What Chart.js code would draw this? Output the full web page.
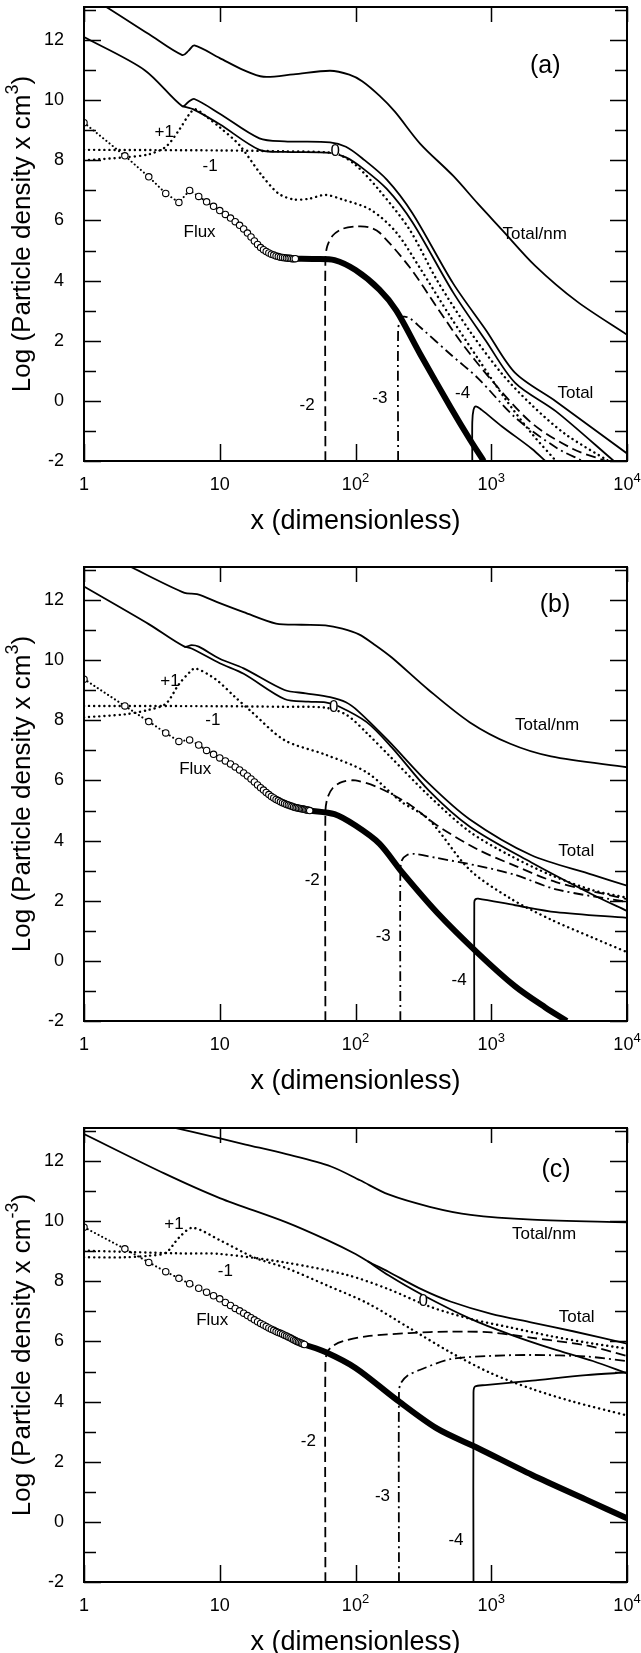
<!DOCTYPE html>
<html>
<head>
<meta charset="utf-8">
<script src="https://cdn.jsdelivr.net/npm/chart.js@4.4.1/dist/chart.umd.min.js"></script>
<style>
  html, body { margin: 0; padding: 0; background: #fff; }
  body { width: 641px; height: 1653px; overflow: hidden; position: relative; }
  .panel { position: absolute; left: 0; width: 641px; height: 560px; }
</style>
</head>
<body>
<div class="panel" style="top:0"><canvas id="chartA"></canvas></div>
<div class="panel" style="top:560px"><canvas id="chartB"></canvas></div>
<div class="panel" style="top:1121px"><canvas id="chartC"></canvas></div>
<script>
const FONT = '"Liberation Sans", Arial, Helvetica, sans-serif';

// axes
const xTicks = [1, 10, 100, 1000, 10000];
const xTickLabels = ['1', '10', '10^2', '10^3', '10^4'];
const yMin = -2, yMax = 13.1;

// ---- panel (a) ----
const aTotalNm = [[1,13.55],[1.5,13.07],[3,12.2],[5.3,11.5],[5.9,11.65],[6.5,11.82],[10,11.4],[15,11.0],[21,10.78],[35,10.86],[65,10.98],[90,10.85],[112,10.63],[150,10.15],[195,9.62],[300,8.55],[525,7.48],[800,6.55],[1200,5.69],[2100,4.5],[4300,3.3],[10000,2.2]];
const aTotal = [[1,12.1],[2.8,11.0],[5.3,9.8],[5.9,9.95],[6.5,10.04],[10,9.55],[19.6,8.73],[30,8.63],[65,8.6],[85,8.45],[112,8.07],[170,7.36],[262,6.25],[525,3.9],[912,2.36],[1500,0.93],[3000,-0.02],[10000,-1.75]];
const aZero = [[5.3,9.8],[6.5,9.68],[10,9.2],[19.6,8.35],[30,8.28],[65,8.25],[85,8.1],[112,7.75],[170,7.05],[262,5.95],[525,3.6],[912,2.0],[1500,0.6],[3000,-0.35],[8000,-2]];
const aPlus1 = [[1,8.0],[2,8.1],[3,8.2],[4,8.45],[5,9.0],[6,9.55],[6.6,9.7],[8,9.45],[10,9.1],[14,8.5],[20,7.55],[27,6.9],[35,6.7],[45,6.72],[60,6.85],[80,6.7],[130,6.35],[200,5.6],[300,4.4],[500,2.8],[800,1.4],[1300,0.0],[2000,-1.1],[3000,-2]];
const aMinus1 = [[1,8.35],[10,8.33],[30,8.3],[60,8.27],[75,8.2],[100,7.85],[150,7.0],[250,5.7],[400,4.0],[700,2.3],[1200,0.9],[2000,-0.15],[3500,-1.1],[7300,-2]];
const aFluxDots = [9.25,8.15,7.45,6.9,6.6,7.0,6.8,6.62,6.47,6.33,6.2,6.08,5.96,5.84,5.72,5.58,5.45,5.32,5.2,5.1,5.03,4.97,4.92,4.88,4.85,4.82,4.8,4.78,4.77,4.76,4.75,4.74,4.74,4.73,4.73,4.73];
const aFluxLine = [[36,4.73],[50,4.72],[70,4.68],[100,4.35],[150,3.7],[200,3.0],[300,1.55],[500,-0.2],[700,-1.3],[880,-2]];
const aMinus2 = [[60,-2],[60,4.7],[62,5.15],[68,5.5],[80,5.72],[100,5.8],[125,5.78],[150,5.6],[250,4.45],[400,3.1],[600,1.95],[1000,0.7],[2000,-0.75],[4000,-1.6],[7000,-2]];
const aMinus3 = [[206,-2],[206,2.35],[212,2.65],[225,2.8],[250,2.75],[300,2.45],[500,1.55],[800,0.75],[1500,-0.55],[3000,-1.55],[4700,-2]];
const aMinus4 = [[725,-2],[725,-0.7],[740,-0.3],[770,-0.18],[850,-0.3],[1200,-0.85],[2000,-1.6],[2500,-2]];

// ---- panel (b) ----
const bTotalNm = [[1,13.85],[2.15,13.13],[5.5,12.24],[6.8,12.2],[10,11.9],[15,11.6],[26,11.22],[40,11.18],[60,11.16],[80,11.05],[106,10.86],[140,10.5],[185,10.09],[346,9.01],[692,7.94],[1380,7.22],[2760,6.8],[10000,6.44]];
const bTotal = [[1,12.45],[3,11.2],[5.5,10.45],[6.2,10.5],[7,10.45],[10,10.05],[15,9.73],[30,9.01],[43,8.9],[65,8.77],[85,8.6],[105,8.3],[173,7.34],[346,5.9],[692,4.71],[1960,3.52],[5600,2.86],[10000,2.5]];
const bZero = [[5.5,10.45],[6.2,10.39],[10,9.9],[15,9.55],[30,8.71],[45,8.62],[60,8.6],[75,8.47],[121,7.94],[185,7.1],[346,5.67],[692,4.47],[1960,3.28],[5600,2.2],[10000,1.66]];
const bPlus1 = [[1,8.1],[2,8.2],[3,8.35],[4,8.55],[5,9.2],[6,9.6],[6.6,9.73],[9.3,9.37],[13,8.77],[17,8.3],[30,7.34],[60,6.86],[121,6.27],[215,5.31],[346,4.71],[690,3.04],[1380,2.08],[2760,1.37],[5600,0.77],[10000,0.29]];
const bMinus1 = [[1,8.48],[10,8.47],[30,8.45],[60,8.42],[86,8.18],[121,7.58],[185,6.74],[346,5.5],[692,4.3],[1380,3.5],[2760,2.85],[5600,2.35],[10000,2.1]];
const bFluxDots = [9.37,8.48,7.96,7.58,7.3,7.35,7.18,7.0,6.87,6.75,6.65,6.55,6.45,6.35,6.25,6.15,6.05,5.95,5.85,5.76,5.68,5.6,5.53,5.47,5.42,5.37,5.33,5.29,5.26,5.23,5.2,5.18,5.16,5.14,5.12,5.1,5.09,5.08,5.07,5.06,5.05,5.04,5.03,5.02,5.01,5.0];
const bFluxLine = [[46,5.0],[70,4.88],[100,4.5],[150,3.9],[220,2.95],[400,1.6],[800,0.25],[1500,-0.85],[2500,-1.55],[3600,-2]];
const bMinus2 = [[60,-2],[60,4.95],[62,5.4],[68,5.75],[80,5.95],[100,6.0],[150,5.75],[250,5.2],[400,4.5],[800,3.7],[1500,3.16],[3000,2.62],[10000,2.05]];
const bMinus3 = [[214,-2],[214,3.0],[220,3.35],[240,3.52],[270,3.56],[400,3.42],[800,3.16],[1500,2.86],[3000,2.38],[10000,1.96]];
const bMinus4 = [[750,-2],[750,1.95],[765,2.05],[800,2.07],[1500,1.85],[3000,1.62],[10000,1.43]];

// ---- panel (c) ----
const cTotalNm = [[1,13.8],[6.3,12.97],[15.5,12.55],[31,12.23],[66,11.82],[108,11.36],[175,10.89],[352,10.48],[705,10.21],[2000,10.05],[10000,9.96]];
const cTotal = [[1,12.9],[3.9,11.59],[10,10.77],[31,9.96],[62,9.37],[100,8.91],[123,8.67],[175,8.32],[305,7.74],[500,7.33],[1000,6.92],[2000,6.63],[4000,6.34],[10000,5.93]];
const cZero = [[123,8.67],[175,8.2],[305,7.57],[705,6.75],[1400,6.22],[2800,5.76],[5600,5.35],[10000,4.94]];
const cPlus1 = [[1,8.8],[2,8.8],[3,8.85],[4,8.95],[5,9.45],[6.3,9.78],[10,9.37],[18,8.79],[31,8.44],[62,7.86],[123,7.27],[247,6.46],[500,5.64],[1000,4.94],[2000,4.42],[4000,4.0],[10000,3.54]];
const cMinus1 = [[1,9.02],[5,8.93],[10,8.91],[31,8.62],[87,8.21],[175,7.74],[352,7.16],[705,6.75],[1400,6.46],[2800,6.17],[5600,5.93],[10000,5.76]];
const cFluxDots = [9.8,9.08,8.63,8.32,8.1,7.92,7.77,7.64,7.52,7.42,7.3,7.2,7.1,7.02,6.94,6.86,6.79,6.72,6.66,6.6,6.55,6.5,6.45,6.41,6.37,6.33,6.3,6.27,6.24,6.21,6.18,6.15,6.12,6.09,6.06,6.03,6.0,5.98,5.96,5.94,5.92,5.9];
const cFluxLine = [[42,5.9],[60,5.65],[100,5.12],[200,4.07],[400,3.1],[800,2.45],[2000,1.56],[5000,0.74],[10000,0.12]];
const cMinus2 = [[60,-2],[60,5.3],[62,5.65],[68,5.85],[80,6.0],[120,6.17],[250,6.28],[500,6.33],[1000,6.3],[2000,6.12],[5000,5.87],[10000,5.52]];
const cMinus3 = [[209,-2],[209,4.3],[215,4.6],[240,4.85],[300,5.06],[500,5.41],[1000,5.52],[2000,5.55],[5000,5.5],[10000,5.35]];
const cMinus4 = [[740,-2],[740,4.3],[760,4.5],[900,4.55],[2000,4.7],[5000,4.88],[10000,4.97]];

// curve labels: text, x, y (data units), font size
const aLabels = [['(a)',2500,11.13,25],['Total/nm',2090,5.54,17],['Total',4170,0.25,17],['+1',3.9,8.94,17],['-1',8.5,7.8,17],['Flux',7.1,5.6,17],['-2',44,-0.15,17],['-3',151,0.08,17],['-4',615,0.25,17],['0',71,8.3,17]];
const bLabels = [['(b)',2950,11.82,25],['Total/nm',2580,7.82,17],['Total',4230,3.64,17],['+1',4.3,9.31,17],['-1',8.9,8.0,17],['Flux',6.6,6.38,17],['-2',48,2.68,17],['-3',160,0.83,17],['-4',580,-0.66,17],['0',69,8.44,17]];
const cLabels = [['(c)',3000,11.7,25],['Total/nm',2450,9.55,17],['Total',4260,6.81,17],['+1',4.6,9.9,17],['-1',11,8.32,17],['Flux',8.8,6.69,17],['-2',45,2.67,17],['-3',158,0.86,17],['-4',550,-0.6,17],['0',316,7.33,17]];

const SOLID = { borderWidth: 1.8 };
const DOTTED = { borderWidth: 2.4, borderDash: [0.1, 5], borderCapStyle: 'round' };
const DASHED = { borderWidth: 1.8, borderDash: [10, 5] };
const DASHDOT = { borderWidth: 1.8, borderDash: [10, 4, 2, 4] };
const THICK = { borderWidth: 6 };

function curve(pts, style) {
    return Object.assign({
        data: pts.map(([x, y]) => ({ x, y })),
        showLine: true,
        pointRadius: 0,
        borderColor: '#000',
        backgroundColor: '#000',
        fill: false,
        tension: 0.3,
    }, style);
}

function fluxDots(vals) {
    return {
        data: vals.map((y, i) => ({ x: i + 1, y })),
        showLine: true,
        borderColor: '#000',
        borderWidth: 2,
        borderDash: [0.1, 4],
        borderCapStyle: 'round',
        pointRadius: 3.2,
        pointBorderWidth: 1.1,
        pointBackgroundColor: '#fff',
        pointBorderColor: '#000',
        tension: 0,
    };
}

function drawSup(ctx, parts, x, y, size, align) {
    // parts: [[text, isSup]]
    const supSize = Math.round(size * 0.7);
    let w = 0;
    parts.forEach(([t, sup]) => {
        ctx.font = (sup ? supSize : size) + 'px ' + FONT;
        w += ctx.measureText(t).width;
    });
    let cx = align === 'center' ? x - w / 2 : x;
    ctx.textAlign = 'left';
    ctx.textBaseline = 'alphabetic';
    parts.forEach(([t, sup]) => {
        ctx.font = (sup ? supSize : size) + 'px ' + FONT;
        ctx.fillText(t, cx, sup ? y - size * 0.45 : y);
        cx += ctx.measureText(t).width;
    });
}

function decor(labels, unitSup) {
    return {
        id: 'decor',
        afterDraw(chart) {
            const { ctx, chartArea: a, scales: { x, y } } = chart;
            ctx.save();
            ctx.strokeStyle = '#000';
            ctx.fillStyle = '#000';
            ctx.lineWidth = 2;
            ctx.strokeRect(a.left, a.top, a.right - a.left, a.bottom - a.top);
            ctx.lineWidth = 1.5;
            ctx.beginPath();
            for (let v = -2; v <= 13; v++) {
                const py = Math.round(y.getPixelForValue(v)) + 0.5;
                const len = v % 2 === 0 ? 17 : 12;
                ctx.moveTo(a.left, py); ctx.lineTo(a.left + len, py);
                ctx.moveTo(a.right, py); ctx.lineTo(a.right - len, py);
            }
            xTicks.forEach(v => {
                const px = Math.round(x.getPixelForValue(v)) + 0.5;
                ctx.moveTo(px, a.bottom); ctx.lineTo(px, a.bottom - 17);
                ctx.moveTo(px, a.top); ctx.lineTo(px, a.top + 15);
            });
            ctx.stroke();

            // x tick labels with exponents
            xTickLabels.forEach((lab, i) => {
                const [base, exp] = lab.split('^');
                const parts = [[base, false]];
                if (exp) parts.push([exp, true]);
                drawSup(ctx, parts, x.getPixelForValue(xTicks[i]), a.bottom + 29, 18, 'center');
            });

            // axis titles
            drawSup(ctx, [['x (dimensionless)', false]], (a.left + a.right) / 2, a.bottom + 68, 27, 'center');
            ctx.save();
            ctx.translate(30, (a.top + a.bottom) / 2);
            ctx.rotate(-Math.PI / 2);
            drawSup(ctx, [['Log (Particle density x cm', false], [unitSup, true], [')', false]], 0, 0, 26, 'center');
            ctx.restore();

            // curve labels
            ctx.textAlign = 'center';
            ctx.textBaseline = 'middle';
            labels.forEach(([t, lx, ly, size]) => {
                const px = x.getPixelForValue(lx), py = y.getPixelForValue(ly);
                ctx.font = size + 'px ' + FONT;
                if (t === '0') {
                    ctx.fillStyle = '#fff';
                    ctx.beginPath();
                    ctx.ellipse(px, py, 4, 7, 0, 0, Math.PI * 2);
                    ctx.fill();
                    ctx.fillStyle = '#000';
                }
                ctx.fillText(t, px, py);
            });
            ctx.restore();
        },
    };
}

function makePanel(id, sets, labels, unitSup) {
    const [totalNm, total, zero, plus1, minus1, dots, fluxLine, m2, m3, m4] = sets;
    new Chart(document.getElementById(id), {
        type: 'scatter',
        data: {
            datasets: [
                fluxDots(dots),
                curve(fluxLine, THICK),
                curve(totalNm, SOLID),
                curve(total, SOLID),
                curve(zero, SOLID),
                curve(plus1, DOTTED),
                curve(minus1, DOTTED),
                curve(m2, DASHED),
                curve(m3, DASHDOT),
                curve(m4, SOLID),
            ],
        },
        options: {
            responsive: true,
            maintainAspectRatio: false,
            animation: false,
            devicePixelRatio: 1,
            layout: { padding: { top: 7, right: 14, left: 0, bottom: 0 } },
            plugins: { legend: { display: false }, tooltip: { enabled: false } },
            scales: {
                x: {
                    type: 'logarithmic',
                    min: 1,
                    max: 10000,
                    grid: { display: false },
                    border: { display: false },
                    ticks: { display: false },
                    afterFit: s => { s.height = 99; s.paddingLeft = 0; s.paddingRight = 0; },
                },
                y: {
                    type: 'linear',
                    min: yMin,
                    max: yMax,
                    grid: { display: false },
                    border: { display: false },
                    ticks: {
                        stepSize: 1,
                        autoSkip: false,
                        padding: 12,
                        color: '#000',
                        font: { size: 18, family: FONT },
                        callback: v => (Number.isInteger(v) && v % 2 === 0) ? String(v) : '',
                    },
                    afterFit: s => { s.width = 84; s.paddingTop = 0; s.paddingBottom = 0; },
                },
            },
        },
        plugins: [decor(labels, unitSup)],
    });
}

makePanel('chartA', [aTotalNm, aTotal, aZero, aPlus1, aMinus1, aFluxDots, aFluxLine, aMinus2, aMinus3, aMinus4], aLabels, '3');
makePanel('chartB', [bTotalNm, bTotal, bZero, bPlus1, bMinus1, bFluxDots, bFluxLine, bMinus2, bMinus3, bMinus4], bLabels, '3');
makePanel('chartC', [cTotalNm, cTotal, cZero, cPlus1, cMinus1, cFluxDots, cFluxLine, cMinus2, cMinus3, cMinus4], cLabels, '-3');
</script>
</body>
</html>
